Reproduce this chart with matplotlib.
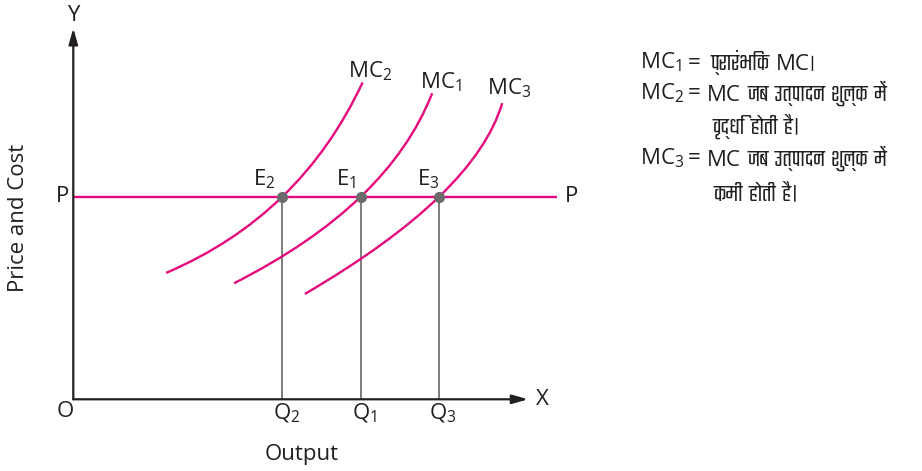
import matplotlib
matplotlib.use("Agg")
import matplotlib.pyplot as plt
from matplotlib import font_manager
from matplotlib.path import Path
from matplotlib.patches import PathPatch
import numpy as np

# ---- data -------------------------------------------------------------
price_P = 8.0
q_values = [8.0, 11.0, 14.0]            # Q2, Q1, Q3
q_labels = ["Q$_2$", "Q$_1$", "Q$_3$"]
e_labels = ["E$_2$", "E$_1$", "E$_3$"]

# each MC curve: start point, equilibrium point E, end point (output, cost)
mc2_pts = [(3.55, 4.99), (8.0, 8.0), (11.07, 12.51)]
mc1_pts = [(6.15, 4.58), (11.0, 8.0), (13.73, 12.08)]
mc3_pts = [(8.86, 4.16), (14.0, 8.0), (16.41, 11.69)]
mc_names = ["MC$_2$", "MC$_1$", "MC$_3$"]

x_axis_end = 17.4
y_axis_end = 14.65
p_line_end = 18.5

# note rows: left-hand label, then pieces of the right-hand text
# (True marks Devanagari pieces)
legend_lines = [
    ("MC$_1$", [("प्रारंभिक", True), ("MC।", False)]),
    ("MC$_2$", [("MC", False), ("जब उत्पादन शुल्क में", True)]),
    ("", [("वृद्धि होती है।", True)]),
    ("MC$_3$", [("MC", False), ("जब उत्पादन शुल्क में", True)]),
    ("", [("कमी होती है।", True)]),
]

# ---- fonts ------------------------------------------------------------
latin = "Open Sans"
deva_names = []
for f in font_manager.fontManager.ttflist:
    try:
        ft = matplotlib.ft2font.FT2Font(f.fname)
        if ft.get_char_index(0x0915) and f.name not in deva_names:
            deva_names.append(f.name)
    except Exception:
        pass

plt.rcParams["mathtext.fontset"] = "custom"
plt.rcParams["mathtext.rm"] = latin
plt.rcParams["mathtext.it"] = latin

PINK = "#e6087f"
GREY = "#7d7d7d"
DOT = "#6b6b6b"
INK = "#231f20"
FS = 16

fig = plt.figure(figsize=(9.22, 4.71), dpi=100)
renderer = fig.canvas.get_renderer()

# pick the most compact Devanagari face for the note
sample = "जब उत्पादन शुल्क में"
best, best_w = None, None
for name in deva_names:
    probe = fig.text(0, 0, sample, fontsize=FS, family=[latin, name, "DejaVu Sans"])
    w = probe.get_window_extent(renderer).width
    probe.remove()
    if best_w is None or w < best_w:
        best, best_w = name, w
families = [latin] + ([best] if best else []) + ["DejaVu Sans"]
plt.rcParams["font.family"] = families

ax = fig.add_axes([0, 0, 1, 1])
ax.set_xlim(-2.804, 32.47)
ax.set_ylim(-2.831, 15.764)
ax.axis("off")

# axes with arrows
arrow = dict(arrowstyle="-|>,head_length=0.95,head_width=0.27",
             color=INK, lw=1.6, shrinkA=0, shrinkB=0, mutation_scale=10)
ax.annotate("", xy=(x_axis_end, 0), xytext=(0, 0), arrowprops=arrow)
ax.annotate("", xy=(0, y_axis_end), xytext=(0, 0), arrowprops=arrow)
ax.text(x_axis_end + 0.3, 0, "X", fontsize=FS, color=INK, va="center", ha="left")
ax.text(0, y_axis_end + 0.1, "Y", fontsize=FS, color=INK, va="bottom", ha="center")
ax.text(-0.32, -0.49, "O", fontsize=FS, color=INK, va="center", ha="center")

# price line
ax.plot([0, p_line_end], [price_P, price_P], color=PINK, lw=1.7,
        solid_capstyle="butt", zorder=2)
ax.text(-0.42, price_P, "P", fontsize=FS, color=INK, va="center", ha="center")
ax.text(p_line_end + 0.3, price_P, "P", fontsize=FS, color=INK, va="center", ha="left")


def mc_curve(pts):
    s, e, t = [np.array(p) for p in pts]
    ctrl = 2 * e - 0.5 * s - 0.5 * t  # quadratic Bezier through E at t=0.5
    path = Path([s, ctrl, t], [Path.MOVETO, Path.CURVE3, Path.CURVE3])
    ax.add_patch(PathPatch(path, fill=False, edgecolor=PINK, lw=1.7, zorder=3))


curves = [mc2_pts, mc1_pts, mc3_pts]
for pts in curves:
    mc_curve(pts)

# equilibrium drop lines, points and labels
e_right = [-0.28, -0.19, 0.03]
for qx, qlab, elab, dx in zip(q_values, q_labels, e_labels, e_right):
    ax.plot([qx, qx], [0, price_P], color=GREY, lw=1.4, zorder=1)
    ax.plot(qx, price_P, "o", color=DOT, ms=7, zorder=4)
    ax.text(qx + dx, price_P + 0.46, elab, fontsize=FS, color=INK,
            ha="right", va="baseline")
    ax.text(qx + 0.15, -0.78, qlab, fontsize=FS, color=INK,
            ha="center", va="baseline")

# curve labels
label_off = [(0.28, 0.45), (0.34, 0.42), (0.28, 0.58)]
for pts, name, (dx, dy) in zip(curves, mc_names, label_off):
    ax.text(pts[2][0] + dx, pts[2][1] + dy, name, fontsize=FS, color=INK,
            ha="center", va="center")

# axis titles
ax.text(8.74, -2.40, "Output", fontsize=FS, color=INK, ha="center", va="baseline")
ax.text(-2.08, 7.16, "Price and Cost", fontsize=FS, color=INK,
        ha="center", va="center", rotation=90)


# ---- explanatory note (figure pixel positions) ------------------------
def px(xp, yp):
    return xp / 922.0, 1 - yp / 471.0


def width_of(s, size):
    t = fig.text(0, 0, s, fontsize=size)
    w = t.get_window_extent(renderer).width
    t.remove()
    return w


rows_y = [62, 93, 127, 158, 193]
rhs_x = [710, 707, 713, 707, 713]
right_edge = 916
gap = 7

# size for the Devanagari pieces, kept close to the Latin text size
w_mc = width_of("MC", FS)
w_deva = width_of(sample, FS)
deva_fs = FS * min(1.1, (right_edge - 707 - w_mc - gap) / w_deva)

for (lhs, pieces), yp, x0 in zip(legend_lines, rows_y, rhs_x):
    if lhs:
        fig.text(*px(640, yp), lhs, fontsize=FS, color=INK, ha="left", va="center")
        fig.text(*px(694, yp + 1), "=", fontsize=FS, color=INK, ha="center", va="center")
    x = x0
    for s, is_deva in pieces:
        size = deva_fs if is_deva else FS
        t = fig.text(*px(x, yp + 0.36 * FS * 100 / 72), s, fontsize=size,
                     color=INK, ha="left", va="baseline")
        x += t.get_window_extent(renderer).width + gap

fig.savefig("out.png", dpi=100)
